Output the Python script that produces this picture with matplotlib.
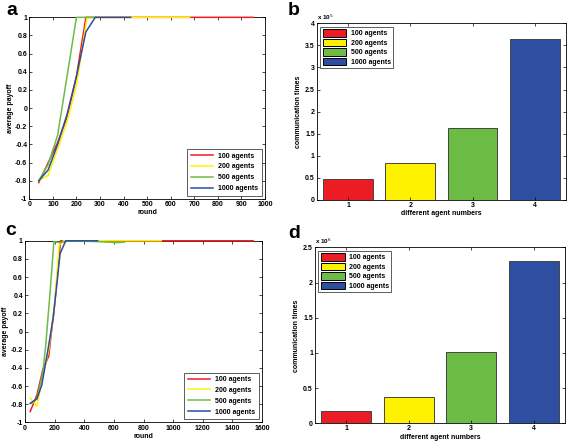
import matplotlib
matplotlib.use("Agg")
import matplotlib.pyplot as plt
from matplotlib.patches import Patch

plt.rcParams['font.family'] = ['Liberation Sans', 'DejaVu Sans']
plt.rcParams['axes.unicode_minus'] = False

labels = ['100 agents', '200 agents', '500 agents', '1000 agents']
line_colors = ['#f01c24', '#fff200', '#6cbd45', '#2a4ea2']
bar_colors = ['#ec1c24', '#fff200', '#6cbb45', '#2e4fa1']

# panel a: average payoff vs round
a_x = [
    [40, 80, 120, 160, 200, 240, 300, 400, 500, 600, 700, 800, 950],
    [40, 80, 120, 160, 200, 245, 300, 400, 500, 600, 680],
    [40, 80, 120, 160, 200, 240, 280],
    [40, 80, 120, 160, 200, 240, 280, 350, 430],
]
a_y = [
    [-0.82, -0.6, -0.38, -0.1, 0.35, 1.0, 1, 1, 1, 1, 1, 1, 1],
    [-0.8, -0.74, -0.45, -0.15, 0.25, 1.0, 1, 1, 1, 1, 1],
    [-0.8, -0.62, -0.3, 0.35, 1.0, 1, 1],
    [-0.8, -0.68, -0.4, -0.07, 0.35, 0.84, 1.0, 1, 1],
]

# panel c: average payoff vs round (longer run)
c_x = [
    [35, 80, 120, 160, 200, 240, 300, 600, 1000, 1540],
    [35, 80, 120, 160, 200, 230, 260, 500, 920],
    [40, 80, 120, 140, 170, 195, 240, 300, 500, 560, 620, 670],
    [35, 80, 113, 158, 191, 237, 275, 400, 490],
]
c_y = [
    [-0.88, -0.7, -0.42, -0.27, 0.3, 1.0, 1, 1, 1, 1],
    [-0.73, -0.82, -0.5, -0.2, 0.3, 0.95, 1.0, 1, 1],
    [-0.79, -0.74, -0.45, -0.15, 0.45, 0.99, 0.98, 1.0, 0.99, 0.985, 0.98, 0.985],
    [-0.79, -0.74, -0.59, -0.17, 0.16, 0.86, 1.0, 1, 1],
]

# panels b and d: communication times
groups = [1, 2, 3, 4]
b_vals = [0.48, 0.83, 1.62, 3.65]
d_vals = [0.18, 0.38, 1.02, 2.3]

FS = 5
FW = 'bold'

fig = plt.figure(figsize=(5.67, 4.41), dpi=100)


def style(ax):
    ax.tick_params(direction='in', top=True, right=True, labelsize=FS,
                   length=2.5, width=0.5, pad=1.5)
    for t in ax.get_xticklabels() + ax.get_yticklabels():
        t.set_fontweight(FW)
    for s in ax.spines.values():
        s.set_linewidth(0.6)


def line_panel(rect, xs, ys, xmax, xstep):
    ax = fig.add_axes(rect)
    for x, y, c, lab in zip(xs, ys, line_colors, labels):
        ax.plot(x, y, color=c, lw=1.1, label=lab, clip_on=False, zorder=3)
    ax.set_xlim(0, xmax)
    ax.set_ylim(-1, 1)
    ax.set_xticks(range(0, xmax + 1, xstep))
    ax.set_yticks([-1, -0.8, -0.6, -0.4, -0.2, 0, 0.2, 0.4, 0.6, 0.8, 1])
    ax.set_yticklabels(['-1', '-0.8', '-0.6', '-0.4', '-0.2', '0',
                        '0.2', '0.4', '0.6', '0.8', '1'])
    ax.set_xlabel('round', fontsize=FS, fontweight=FW, labelpad=1)
    ax.set_ylabel('average payoff', fontsize=FS, fontweight=FW, labelpad=1)
    style(ax)
    leg = ax.legend(loc='lower right', prop={'size': FS, 'weight': FW},
                    handlelength=3.2, fancybox=False, edgecolor='#333333',
                    borderpad=0.5, labelspacing=0.55, handletextpad=0.7,
                    borderaxespad=0.5)
    leg.get_frame().set_linewidth(0.7)
    return ax


def bar_panel(rect, vals, ymax, expo):
    ax = fig.add_axes(rect)
    ax.bar(groups, vals, width=0.8, color=bar_colors, edgecolor='#444444', lw=0.7)
    ax.set_xlim(0.5, 4.5)
    ax.set_ylim(0, ymax)
    ax.set_xticks(groups)
    ticks = [v * 0.5 for v in range(int(ymax * 2) + 1)]
    ax.set_yticks(ticks)
    ax.set_yticklabels(['%g' % t for t in ticks])
    ax.set_xlabel('different agent numbers', fontsize=FS, fontweight=FW, labelpad=1)
    ax.set_ylabel('communication times', fontsize=FS, fontweight=FW, labelpad=2)
    ax.text(0.0, 1.01, r'x 10$^{%d}$' % expo, transform=ax.transAxes,
            fontsize=FS - 0.5, fontweight=FW, va='bottom', ha='left')
    style(ax)
    handles = [Patch(facecolor=c, edgecolor='black', lw=0.7) for c in bar_colors]
    leg = ax.legend(handles, labels, loc='upper left',
                    prop={'size': FS, 'weight': FW},
                    handlelength=3.4, handleheight=1.3, fancybox=False,
                    edgecolor='#333333', borderpad=0.35, labelspacing=0.2,
                    handletextpad=0.6, borderaxespad=0.5)
    leg.get_frame().set_linewidth(0.7)
    return ax


line_panel([0.0517, 0.5488, 0.4157, 0.4119], a_x, a_y, 1000, 100)
bar_panel([0.559, 0.5465, 0.439, 0.4007], b_vals, 4, 5)
line_panel([0.0441, 0.042, 0.418, 0.412], c_x, c_y, 1600, 200)
bar_panel([0.5556, 0.040, 0.441, 0.399], d_vals, 2.5, 6)

for lab, x, y in [('a', 0.012, 0.995), ('b', 0.508, 0.995),
                  ('c', 0.010, 0.497), ('d', 0.508, 0.490)]:
    fig.text(x, y, lab, fontsize=14, fontweight='bold', va='top', ha='left')

fig.savefig('out.png', dpi=100)
